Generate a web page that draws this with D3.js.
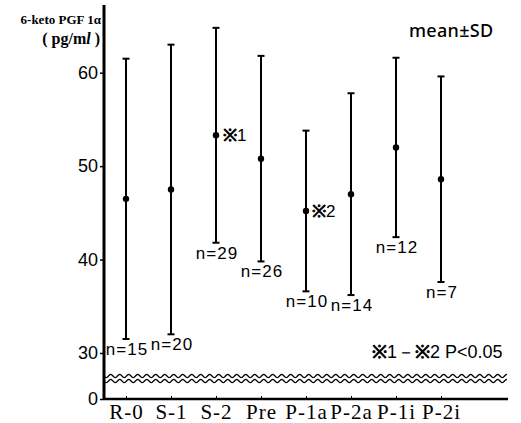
<!DOCTYPE html>
<html>
<head>
<meta charset="utf-8">
<script src="https://cdn.jsdelivr.net/npm/d3@7"></script>
<style>
  body { margin: 0; background: #fff; }
  svg { display: block; }
</style>
</head>
<body>
<script>
// groups along the x axis
const groups = ["R-0", "S-1", "S-2", "Pre", "P-1a", "P-2a", "P-1i", "P-2i"];
// 6-keto PGF 1a, pg/ml
const means = [46.5, 47.5, 53.3, 50.8, 45.2, 47.0, 52.0, 48.6];
const sds = [15.0, 15.5, 11.5, 11.0, 8.6, 10.8, 9.6, 11.0];
const counts = [15, 20, 29, 26, 10, 14, 12, 7];
const yTicks = [0, 30, 40, 50, 60];

const width = 521, height = 423;

let svg = d3.select("body").append("svg")
  .attr("width", width)
  .attr("height", height);

// broken axis: 0 at the bottom, then 30..60
let x = d3.scalePoint().domain(groups).range([126, 441]);
let y = d3.scaleLinear().domain([0, 30, 60]).range([399, 353, 72.7]);

const axisX0 = 104, axisX1 = 508;
const narrow = "'Liberation Sans Narrow', 'Liberation Sans', sans-serif";

// y axis
let yAxis = svg.append("g")
  .attr("transform", `translate(${axisX0},0)`)
  .call(d3.axisLeft(y).tickValues(yTicks).tickSize(4).tickPadding(2));
yAxis.select(".domain").remove();
yAxis.selectAll(".tick line").attr("stroke", "#000").attr("stroke-width", 1.5);
yAxis.selectAll(".tick text")
  .style("font-family", narrow)
  .style("font-size", "18px")
  .attr("fill", "#000");

svg.append("line")
  .attr("x1", axisX0).attr("x2", axisX0)
  .attr("y1", 5).attr("y2", 400)
  .attr("stroke", "#000").attr("stroke-width", 3);

// x axis
let xAxis = svg.append("g")
  .attr("transform", `translate(0,${y(0)})`)
  .call(d3.axisBottom(x).tickSizeInner(-3).tickSizeOuter(0).tickPadding(5));
xAxis.select(".domain").remove();
xAxis.selectAll(".tick line").attr("stroke", "#000").attr("stroke-width", 1);
xAxis.selectAll(".tick text")
  .style("font-family", "'Liberation Serif', serif")
  .style("font-size", "21px")
  .style("letter-spacing", "1px")
  .attr("fill", "#000");

svg.append("line")
  .attr("x1", axisX0).attr("x2", axisX1)
  .attr("y1", y(0)).attr("y2", y(0))
  .attr("stroke", "#000").attr("stroke-width", 2.5);

// wavy break lines
let wave = d3.line();
[376, 381].forEach(function (base) {
  let pts = d3.range(axisX0, axisX1, 1).map(function (px) {
    return [px, base + 1.6 * Math.sin(2 * Math.PI * (px - axisX0) / 9)];
  });
  svg.append("path")
    .attr("d", wave(pts))
    .attr("fill", "none")
    .attr("stroke", "#000")
    .attr("stroke-width", 1.3);
});

// error bars
let bars = svg.selectAll(".bar")
  .data(groups)
  .enter().append("g")
  .attr("class", "bar");

bars.append("line")
  .attr("x1", d => x(d)).attr("x2", d => x(d))
  .attr("y1", (d, i) => y(means[i] + sds[i]))
  .attr("y2", (d, i) => y(means[i] - sds[i]))
  .attr("stroke", "#000").attr("stroke-width", 2);

[1, -1].forEach(function (s) {
  bars.append("line")
    .attr("x1", d => x(d) - 3.5).attr("x2", d => x(d) + 3.5)
    .attr("y1", (d, i) => y(means[i] + s * sds[i]))
    .attr("y2", (d, i) => y(means[i] + s * sds[i]))
    .attr("stroke", "#000").attr("stroke-width", 2);
});

bars.append("circle")
  .attr("cx", d => x(d))
  .attr("cy", (d, i) => y(means[i]))
  .attr("r", 3.2)
  .attr("fill", "#000");

// n labels under each bar
bars.append("text")
  .attr("x", d => x(d) + 1)
  .attr("y", (d, i) => y(means[i] - sds[i]) + 16)
  .attr("text-anchor", "middle")
  .style("font-family", narrow)
  .style("font-size", "17px")
  .style("letter-spacing", "1px")
  .text((d, i) => "n=" + counts[i]);

// significance marks; the reference mark gets a stroke so it reads dark
function note(sel, parts) {
  parts.forEach(function (p) {
    let t = sel.append("tspan").text(p);
    if (p === "※") t.attr("stroke", "#000").attr("stroke-width", 0.9);
  });
}

note(svg.append("text")
  .attr("x", x("S-2") + 7)
  .attr("y", y(means[2]) + 6)
  .style("font-family", narrow)
  .style("font-size", "17px"), ["※", "1"]);

note(svg.append("text")
  .attr("x", x("P-1a") + 6)
  .attr("y", y(means[4]) + 6)
  .style("font-family", narrow)
  .style("font-size", "17px"), ["※", "2"]);

note(svg.append("text")
  .attr("x", 372)
  .attr("y", 358)
  .style("font-family", narrow)
  .style("font-size", "18px"), ["※", "1－", "※", "2  P<0.05"]);

svg.append("text")
  .attr("x", 409)
  .attr("y", 37)
  .style("font-family", "'Noto Sans', sans-serif")
  .style("font-size", "18px")
  .style("font-weight", 500)
  .style("letter-spacing", "0.3px")
  .text("mean±SD");

// y axis title
svg.append("text")
  .attr("x", 101)
  .attr("y", 24)
  .attr("text-anchor", "end")
  .style("font-family", "'Liberation Serif', serif")
  .style("font-size", "13px")
  .style("font-weight", "bold")
  .text("6-keto PGF 1α");

let unit = svg.append("text")
  .attr("x", 100)
  .attr("y", 44)
  .attr("text-anchor", "end")
  .style("font-family", "'Liberation Serif', serif")
  .style("font-size", "16px")
  .style("font-weight", "bold");
unit.append("tspan").text("( pg/m");
unit.append("tspan").style("font-style", "italic").text("l");
unit.append("tspan").text(" )");
</script>
</body>
</html>
